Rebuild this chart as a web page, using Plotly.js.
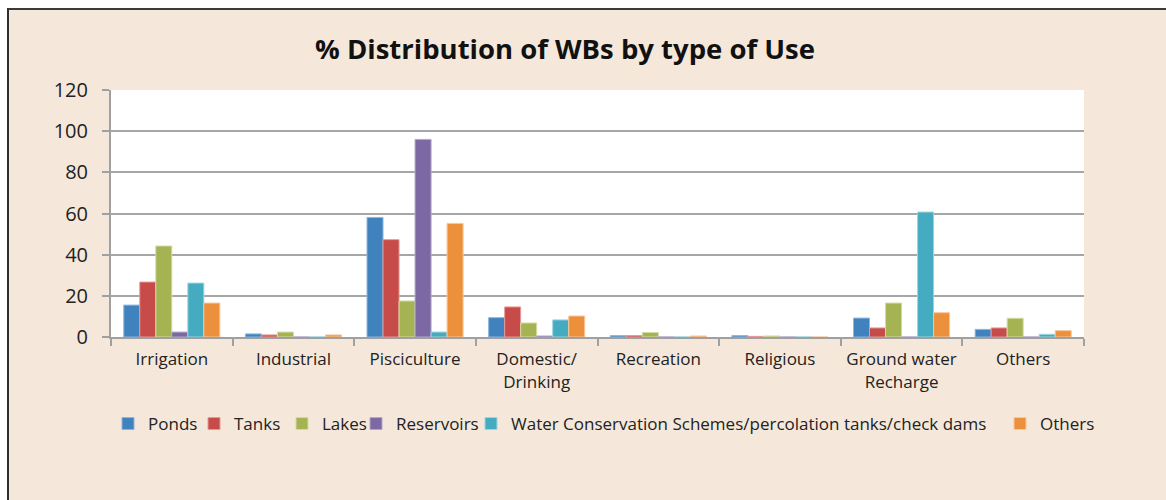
<!DOCTYPE html>
<html>
<head>
<meta charset="utf-8">
<script src="https://cdn.plot.ly/plotly-3.0.1.min.js"></script>
<style>
html,body{margin:0;padding:0;background:#ffffff;}
#wrap{position:relative;width:1166px;height:500px;overflow:hidden;background:#ffffff;}
#bg{position:absolute;left:7px;top:8px;right:0;bottom:0;background:#f5e8da;border-left:2px solid #2e2e2e;border-top:2px solid #3a3a3a;}
#chart{position:absolute;left:0;top:0;width:1166px;height:500px;}
</style>
</head>
<body>
<div id="wrap"><div id="bg"></div><div id="chart"></div></div>
<script>
const categories = ["Irrigation","Industrial","Pisciculture","Domestic/<br>Drinking","Recreation","Religious","Ground water<br>Recharge","Others"];
const seriesNames = ["Ponds","Tanks","Lakes","Reservoirs","Water Conservation Schemes/percolation tanks/check dams","Others"];
const ponds      = [15.5, 1.5, 58.1, 9.4, 0.7, 0.7, 9.2, 3.7];
const tanks      = [26.7, 1.0, 47.3, 14.6, 0.7, 0.3, 4.4, 4.4];
const lakes      = [44.2, 2.4, 17.5, 6.8, 2.2, 0.5, 16.5, 9.1];
const reservoirs = [2.4, 0.0, 96.0, 0.5, 0.0, 0.0, 0.0, 0.0];
const wcs        = [26.2, 0.0, 2.4, 8.3, 0.0, 0.0, 60.7, 1.3];
const others     = [16.5, 1.0, 55.2, 10.2, 0.5, 0.0, 11.8, 3.1];
const yTicks = [0,20,40,60,80,100,120];

const colors = ["#3f82be","#c74b48","#a6b352","#7c69a3","#45abc0","#ec903b"];
const edges  = ["#8fb6dc","#e69a98","#d3dba4","#b4a7cc","#9dd4e0","#f7c79b"];
const values = [ponds,tanks,lakes,reservoirs,wcs,others];
// left pixel of each legend entry's swatch in the reference
const legendSwatchX = [124, 210, 298, 372, 487, 1016];

const font = "'Open Sans', Lato, sans-serif";
const legendIds = seriesNames.map((_,i)=> i===0 ? "legend" : "legend"+(i+1));
const traces = values.map((v,i)=>({
  type:"bar", name:seriesNames[i], x:categories, y:v, legend:legendIds[i],
  marker:{color:colors[i], line:{color:edges[i], width:1}},
  hoverinfo:"y+name"
}));

const layout = {
  width:1166, height:500,
  margin:{l:111, r:82, t:90, b:163, autoexpand:false},
  paper_bgcolor:"rgba(0,0,0,0)",
  plot_bgcolor:"#ffffff",
  barmode:"group", bargap:0.21, bargroupgap:0,
  font:{family:font, color:"#222222", size:15},
  title:{text:"<b>% Distribution of WBs by type of Use</b>", x:565/1166, xref:"container", xanchor:"center", y:1-49/500, yref:"container", yanchor:"middle",
         font:{family:font, size:27.5, color:"#111111"}},
  xaxis:{type:"category", showgrid:false, showline:true, linecolor:"#a0a0a0", linewidth:2,
         ticks:"outside", tickson:"boundaries", ticklen:7, tickcolor:"#a0a0a0", tickwidth:2,
         tickfont:{family:font, size:17, color:"#222222"}, ticklabelstandoff:6, zeroline:false},
  yaxis:{range:[0,120], tickvals:yTicks, showgrid:true, gridcolor:"#a6a6a6", gridwidth:2,
         showline:true, linecolor:"#a0a0a0", linewidth:2, ticks:"outside", ticklen:7, tickcolor:"#a0a0a0", tickwidth:2,
         tickfont:{family:font, size:20, color:"#222222"}, ticklabelstandoff:10, zeroline:false},
  showlegend:true
};
legendIds.forEach((id,i)=>{
  layout[id] = {orientation:"h", xref:"container", yref:"container",
    x:(legendSwatchX[i]-16)/1166, xanchor:"left", y:1-424/500, yanchor:"middle",
    bgcolor:"rgba(0,0,0,0)", font:{family:font, size:17, color:"#222222"}};
});
Plotly.newPlot("chart", traces, layout, {displayModeBar:false, staticPlot:true});
</script>
</body>
</html>
